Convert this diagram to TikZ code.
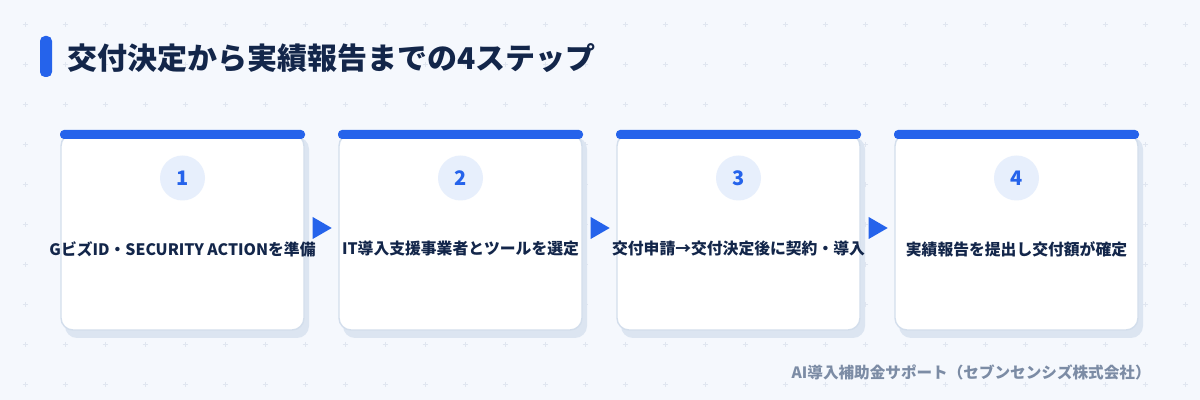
\documentclass[tikz,border=0pt]{standalone}
\usepackage{fontspec}
\setmainfont{Noto Sans CJK JP}
\usetikzlibrary{positioning,calc}
\definecolor{pagebg}{HTML}{F5F8FD}
\definecolor{gridplus}{HTML}{E0E6F0}
\definecolor{brandblue}{HTML}{2563EB}
\definecolor{inknavy}{HTML}{13264A}
\definecolor{cardline}{HTML}{D3DEEC}
\definecolor{cardshadow}{HTML}{DCE5F1}
\definecolor{discblue}{HTML}{E7EFFC}
\definecolor{footgray}{HTML}{7C8CA5}

\tikzset{
  stepcard/.style={rectangle, draw=cardline, line width=0.7pt, fill=white,
    rounded corners=6pt, minimum width=121.5pt, minimum height=98pt},
  numdisc/.style={circle, fill=discblue, minimum size=22.5pt, inner sep=0pt,
    text=brandblue, font=\fontsize{10pt}{12pt}\selectfont\bfseries},
  steplabel/.style={inner sep=0pt, text=inknavy,
    font=\fontsize{7.9pt}{9pt}\selectfont\bfseries},
}

\begin{document}
\begin{tikzpicture}[x=0.5pt, y=-0.5pt]
    % page and faint grid marks
    \fill[pagebg] (0,0) rectangle (1200,400);
    \useasboundingbox (0,0) rectangle (1200,400);
    \foreach \gx in {25,65,...,1185} {
        \foreach \gy in {25,65,...,385} {
            \draw[gridplus, line width=0.5pt] (\gx-2.5,\gy) -- (\gx+2.5,\gy) (\gx,\gy-2.5) -- (\gx,\gy+2.5);
        }
    }

    % heading
    \fill[brandblue, rounded corners=2.5pt] (40,36) rectangle (52,77);
    \node[anchor=west, inner sep=0pt, text=inknavy, font=\fontsize{15pt}{18pt}\selectfont\bfseries]
        (heading) at (67,58) {交付決定から実績報告までの4ステップ};

    % step cards
    \foreach \i/\px/\txt in {1/60/{GビズID・SECURITY ACTIONを準備},
                             2/338/{IT導入支援事業者とツールを選定},
                             3/616/{交付申請→交付決定後に契約・導入},
                             4/894/{実績報告を提出し交付額が確定}} {
        \fill[cardshadow, rounded corners=6pt] (\px+5,137) rectangle (\px+249,338);
        \node[stepcard] (card\i) at (\px+122.5,232) {};
        \fill[brandblue, rounded corners=2pt] (\px,130) rectangle (\px+245,139);
        \node[numdisc] (num\i) at (\px+122.5,178) {\i};
        \node[steplabel] (label\i) at (\px+122.5,249) {\txt};
    }

    % arrow marks between the cards
    \foreach \a/\b in {1/2,2/3,3/4} {
        \fill[brandblue] ($(card\a.east)+(8,-15)$) -- ++(19,11) -- ++(-19,11) -- cycle;
    }

    \node[anchor=east, inner sep=0pt, text=footgray, font=\fontsize{7.8pt}{9pt}\selectfont\bfseries]
        (credit) at (1151,372) {AI導入補助金サポート（セブンセンシズ株式会社）};
\end{tikzpicture}
\end{document}
